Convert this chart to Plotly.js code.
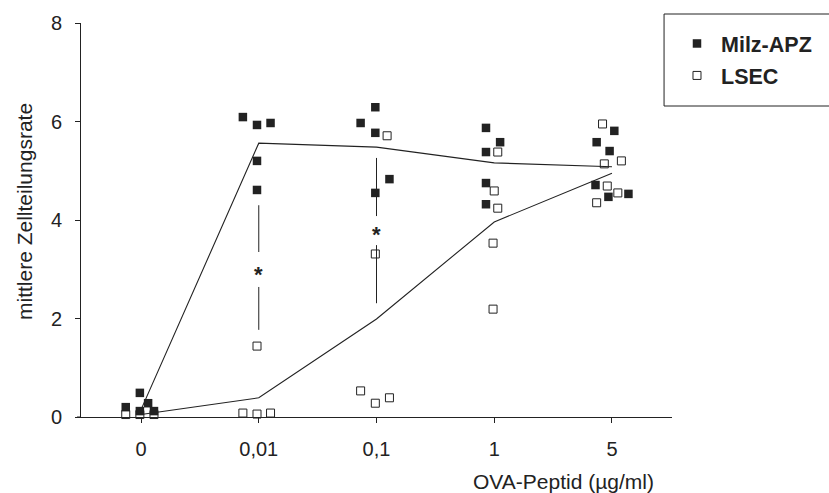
<!DOCTYPE html>
<html>
<head>
<meta charset="utf-8">
<script src="https://cdn.plot.ly/plotly-3.0.1.min.js"></script>
<style>
  html, body { margin: 0; padding: 0; background: #fff; }
  #chart { width: 829px; height: 493px; }
</style>
</head>
<body>
<div id="chart"></div>
<script>
// Peptide doses (categories on the x axis)
const doses = ['0', '0,01', '0,1', '1', '5'];

// Milz-APZ: individual cultures (dose index, value)
const milzDose  = [0, 0, 0, 0, 0,  1, 1, 1, 1, 1,  2, 2, 2, 2, 2,  3, 3, 3, 3, 3,  4, 4, 4, 4, 4, 4];
const milzValue = [0.20, 0.49, 0.28, 0.12, 0.12,
                   6.09, 5.93, 5.97, 5.20, 4.61,
                   6.29, 5.97, 5.77, 4.83, 4.55,
                   5.87, 5.58, 5.38, 4.75, 4.32,
                   5.81, 5.58, 5.40, 4.71, 4.47, 4.53];

// LSEC: individual cultures (dose index, value)
const lsecDose  = [0, 0, 0,  1, 1, 1, 1,  2, 2, 2, 2, 2,  3, 3, 3, 3, 3,  4, 4, 4, 4, 4, 4];
const lsecValue = [0.05, 0.05, 0.05,
                   1.44, 0.08, 0.06, 0.08,
                   5.71, 3.31, 0.53, 0.28, 0.39,
                   5.38, 4.59, 4.24, 3.53, 2.19,
                   5.95, 5.20, 5.14, 4.69, 4.55, 4.35];

// Group means per dose
const milzMean = [0.15, 5.56, 5.48, 5.16, 5.08];
const lsecMean = [0.05, 0.39, 1.99, 3.96, 4.95];

// Significant differences: dose index, bar ends and star position
const sigDose  = [1, 2];
const sigTop   = [4.30, 5.26];
const sigGapHi = [3.35, 4.08];
const sigGapLo = [2.64, 3.49];
const sigBot   = [1.77, 2.31];
const sigStar  = [2.94, 3.74];

// Horizontal scatter of overlapping points within a dose column (in dose units)
const milzSpread = [-0.13, -0.01, 0.06, -0.01, 0.11,
                    -0.135, -0.015, 0.10, -0.015, -0.015,
                    -0.01, -0.135, -0.01, 0.11, -0.01,
                    -0.07, 0.05, -0.07, -0.07, -0.07,
                    0.02, -0.13, -0.02, -0.14, -0.03, 0.14];
const lsecSpread = [-0.13, -0.01, 0.11,
                    -0.015, -0.135, -0.015, 0.10,
                    0.09, -0.01, -0.135, -0.01, 0.11,
                    0.03, 0.0, 0.03, -0.01, -0.01,
                    -0.08, 0.08, -0.065, -0.04, 0.05, -0.13];

const ink = '#222222';
const font = 'Liberation Sans, Arial, sans-serif';
const doseIdx = doses.map((_, i) => i);

const traces = [];

// mean lines
traces.push({
  x: doseIdx, y: milzMean, mode: 'lines', showlegend: false, hoverinfo: 'skip',
  line: { color: ink, width: 1.1 }
});
traces.push({
  x: doseIdx, y: lsecMean, mode: 'lines', showlegend: false, hoverinfo: 'skip',
  line: { color: ink, width: 1.1 }
});

// significance bars, interrupted around the star
const sx = [], sy = [];
sigDose.forEach((d, i) => {
  sx.push(d, d, null, d, d, null);
  sy.push(sigTop[i], sigGapHi[i], null, sigGapLo[i], sigBot[i], null);
});
traces.push({
  x: sx, y: sy, mode: 'lines', showlegend: false, hoverinfo: 'skip',
  line: { color: ink, width: 1 }
});

// LSEC points (drawn below the Milz-APZ points)
traces.push({
  name: 'LSEC', legendrank: 2, legendgroup: 'b',
  x: lsecDose.map((d, i) => d + lsecSpread[i]), y: lsecValue,
  mode: 'markers', cliponaxis: false,
  marker: { symbol: 'square-open', size: 8, color: ink, line: { width: 1, color: ink } }
});

// Milz-APZ points
traces.push({
  name: 'Milz-APZ', legendrank: 1, legendgroup: 'a',
  x: milzDose.map((d, i) => d + milzSpread[i]), y: milzValue,
  mode: 'markers', cliponaxis: false,
  marker: { symbol: 'square', size: 8.5, color: ink }
});

const starNotes = sigDose.map((d, i) => ({
  text: '*', x: d, y: sigStar[i], xref: 'x', yref: 'y',
  xanchor: 'center', yanchor: 'middle', yshift: -2, showarrow: false,
  font: { family: font, size: 22, color: ink, weight: 'bold' }
}));

const layout = {
  width: 829, height: 493,
  margin: { l: 81, r: 153, t: 23, b: 76 },
  paper_bgcolor: '#fff', plot_bgcolor: '#fff',
  font: { family: font, size: 20, color: ink },
  showlegend: true,
  legend: {
    x: (677 - 81) / 595, y: 1.0, xanchor: 'left', yanchor: 'top',
    bgcolor: 'rgba(0,0,0,0)', borderwidth: 0, itemwidth: 38,
    font: { family: font, size: 21.5, color: ink, weight: 'bold' },
    tracegroupgap: 1
  },
  xaxis: {
    range: [-0.51, 4.51], tickmode: 'array', tickvals: doseIdx, ticktext: doses,
    showgrid: false, zeroline: false, showline: true, linecolor: ink, linewidth: 1,
    ticks: 'outside', ticklen: 5, tickcolor: ink, tickwidth: 1,
    ticklabelstandoff: 9,
    tickfont: { family: font, size: 20, color: ink }
  },
  yaxis: {
    range: [0, 8], tickvals: [0, 2, 4, 6, 8],
    showgrid: false, zeroline: false, showline: true, linecolor: ink, linewidth: 1,
    ticks: 'outside', ticklen: 5, tickcolor: ink, tickwidth: 1,
    ticklabelstandoff: 9,
    tickfont: { family: font, size: 20, color: ink }
  },
  shapes: [
    // legend frame, open to the right edge
    { type: 'rect', xref: 'paper', yref: 'paper',
      x0: (668 - 81) / 595, x1: (840 - 81) / 595,
      y0: (417 - 106) / 394, y1: (417 - 14) / 394,
      line: { color: ink, width: 1 }, fillcolor: 'rgba(0,0,0,0)' },
    // short extension of the x axis line left of the y axis
    { type: 'line', xref: 'paper', yref: 'paper',
      x0: -4 / 595, x1: 0, y0: 0, y1: 0,
      line: { color: ink, width: 1 } }
  ],
  annotations: [
    { text: 'mittlere Zellteilungsrate', textangle: -90,
      xref: 'paper', yref: 'paper', x: 0, y: (417 - 212) / 394, xanchor: 'center', yanchor: 'middle',
      xshift: -57, showarrow: false, font: { family: font, size: 21, color: ink } },
    { text: 'OVA-Peptid (µg/ml)',
      xref: 'paper', yref: 'paper', x: (567 - 81) / 595, y: 0, xanchor: 'center', yanchor: 'middle',
      yshift: -64, showarrow: false, font: { family: font, size: 21, color: ink } }
  ].concat(starNotes)
};

Plotly.newPlot('chart', traces, layout, { displayModeBar: false, staticPlot: true });
</script>
</body>
</html>
